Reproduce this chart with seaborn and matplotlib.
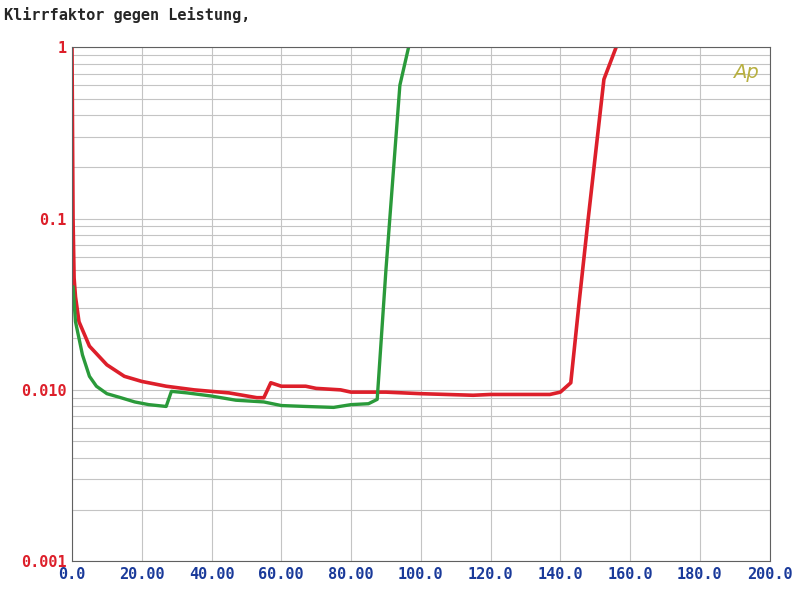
import matplotlib
matplotlib.use("Agg")
import matplotlib.pyplot as plt
import seaborn as sns
import numpy as np
from matplotlib.ticker import FixedLocator, LogLocator, NullFormatter

red_x = [0.0, 0.3, 0.6, 1, 2, 5, 10, 15, 20, 27, 35, 45, 53, 55, 57, 60, 67, 70, 77, 80, 90, 100, 115, 120, 137, 140, 143, 145.5, 148, 152.5, 156]
red_y = [1.0, 0.1, 0.045, 0.035, 0.025, 0.018, 0.014, 0.012, 0.0112, 0.0105, 0.01, 0.0096, 0.009, 0.009, 0.011, 0.0105, 0.0105, 0.0102, 0.01, 0.0097, 0.0097, 0.0095, 0.0093, 0.0094, 0.0094, 0.0097, 0.011, 0.034, 0.1, 0.65, 1.0]
green_x = [0.3, 1, 3, 5, 7, 10, 14, 18, 22, 27, 28.5, 33, 40, 47, 55, 60, 67, 75, 80, 85, 87.5, 90, 94, 96.5]
green_y = [0.04, 0.025, 0.016, 0.012, 0.0105, 0.0095, 0.009, 0.0085, 0.0082, 0.008, 0.0098, 0.0096, 0.0092, 0.0087, 0.0085, 0.0081, 0.008, 0.0079, 0.0082, 0.0083, 0.0088, 0.05, 0.6, 1.0]
x_ticks = [0, 20, 40, 60, 80, 100, 120, 140, 160, 180, 200]
x_labels = ["0.0", "20.00", "40.00", "60.00", "80.00", "100.0", "120.0", "140.0", "160.0", "180.0", "200.0"]
y_ticks = [0.001, 0.01, 0.1, 1]
y_labels = ["0.001", "0.010", "0.1", "1"]

sns.set_style("white")
plt.rcParams['font.family'] = ['DejaVu Sans Mono']
fig = plt.figure(figsize=(8, 6.06), dpi=100)
ax = fig.add_axes([0.09, 0.074, 0.872, 0.848])
sns.lineplot(x=red_x, y=red_y, ax=ax, color="#dd1f2a", lw=2.6, estimator=None, sort=False)
sns.lineplot(x=green_x, y=green_y, ax=ax, color="#2a9a3a", lw=2.4, estimator=None, sort=False)
ax.set_yscale("log")
ax.set_xlim(0, 200)
ax.set_ylim(0.001, 1)
ax.xaxis.set_major_locator(FixedLocator(x_ticks))
ax.set_xticklabels(x_labels, color="#1a3a9a", fontsize=11, fontweight="bold")
ax.yaxis.set_major_locator(FixedLocator(y_ticks))
ax.set_yticklabels(y_labels, color="#dd1f2a", fontsize=11, fontweight="bold")
ax.yaxis.set_minor_locator(LogLocator(base=10, subs=np.arange(2, 10)))
ax.yaxis.set_minor_formatter(NullFormatter())
ax.grid(True, which="both", color="#c4c4c4", lw=0.8)
ax.tick_params(length=0, pad=4)
for s in ax.spines.values():
    s.set_color("#606060")
ax.text(0.985, 0.95, "Ap", transform=ax.transAxes, ha="right", va="center", color="#b8b040", fontsize=14, family="DejaVu Sans", style="italic")
fig.text(0.005, 0.975, "Klirrfaktor gegen Leistung,", fontsize=11, fontweight="bold", va="center")
fig.savefig("out.png", dpi=100)
